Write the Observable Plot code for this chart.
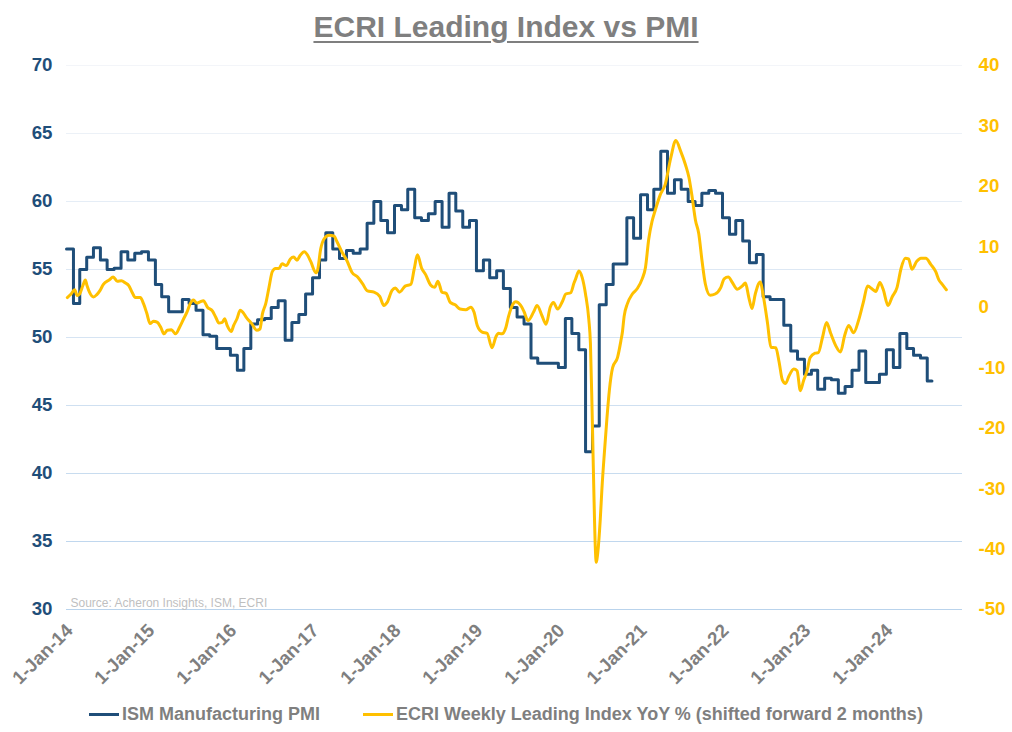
<!DOCTYPE html>
<html>
<head>
<meta charset="utf-8">
<script src="https://cdn.jsdelivr.net/npm/d3@7"></script>
<script src="https://cdn.jsdelivr.net/npm/@observablehq/plot@0.6"></script>
<style>
  html, body { margin: 0; padding: 0; background: #fff; }
  body { font-family: "Liberation Sans", Arial, sans-serif; }
  #wrap { position: relative; width: 1012px; height: 732px; overflow: hidden; background: #fff; }
  #title { position: absolute; left: 0; top: 10px; width: 1012px; text-align: center; font-weight: bold; font-size: 30px; color: #7f7f7f; text-decoration: underline; text-decoration-thickness: 2px; text-underline-offset: 4px; }
  #chart { position: absolute; left: 0; top: 50px; }
  #legend { position: absolute; left: 0; top: 704px; width: 1012px; display: flex; justify-content: center; align-items: center; font-weight: bold; font-size: 18px; color: #7f7f7f; }
  .item { display: flex; align-items: center; }
  .item + .item { margin-left: 43px; }
  .sw { width: 30px; height: 3px; margin-right: 3px; }
</style>
</head>
<body>
<div id="wrap">
  <div id="title">ECRI Leading Index vs PMI</div>
  <div id="chart"></div>
  <div id="legend"></div>
</div>
<script>
// ---------------- DATA ----------------
const seriesNames = ["ISM Manufacturing PMI", "ECRI Weekly Leading Index YoY % (shifted forward 2 months)"];
const seriesColors = ["#1F4E79", "#FFC000"];

// ISM Manufacturing PMI, monthly steps starting Jan 2014
const pmiStart = "2014-01-01";
const pmiEnd = "2024-07-22";
const pmiValues = [
  56.5, 52.5, 55.0, 55.9, 56.6, 55.7, 55.0, 55.1, 56.3, 55.7, 56.2, 56.3,
  55.7, 53.9, 53.0, 51.9, 51.9, 52.8, 52.5, 52.0, 50.2, 50.1, 49.2, 49.2,
  48.7, 47.6, 49.2, 51.0, 51.3, 51.4, 52.2, 52.7, 49.8, 51.1, 51.7, 53.2,
  54.4, 55.7, 57.7, 56.5, 55.8, 56.4, 56.2, 56.5, 58.4, 60.0, 58.6, 57.7,
  59.7, 59.4, 60.9, 58.8, 58.6, 59.1, 60.0, 58.1, 60.6, 59.3, 58.1, 58.6,
  54.9, 55.7, 54.4, 54.9, 53.6, 52.2, 51.5, 51.0, 48.5, 48.1, 48.1, 48.1,
  47.8, 51.4, 50.3, 49.1, 41.6, 43.5, 52.4, 53.9, 55.4, 55.4, 58.8, 57.3,
  60.5, 59.4, 60.9, 63.7, 60.6, 61.6, 60.9, 60.0, 59.7, 60.6, 60.8, 60.6,
  58.8, 57.6, 58.6, 57.1, 55.5, 56.1, 53.0, 52.8, 52.8, 50.9, 49.0, 48.4,
  47.3, 47.6, 46.2, 47.0, 46.9, 45.9, 46.4, 47.6, 49.0, 46.7, 46.7, 47.3,
  49.1, 47.8, 50.3, 49.2, 48.7, 48.5, 46.8
];

// ECRI weekly leading index YoY %, sampled (decimal year, value)
const ecriTime = [
  2014.01,2014.05,2014.10,2014.13,2014.16,2014.20,2014.23,2014.25,2014.28,2014.33,2014.37,2014.41,2014.45,2014.52,2014.57,2014.62,2014.67,2014.72,2014.76,2014.80,2014.84,2014.90,2014.94,2014.98,
  2015.02,2015.06,2015.11,2015.15,2015.19,2015.23,2015.28,2015.33,2015.38,2015.43,2015.47,2015.51,2015.55,2015.59,2015.63,2015.67,2015.72,2015.78,2015.82,2015.86,2015.90,2015.93,2015.96,
  2016.01,2016.04,2016.08,2016.12,2016.15,2016.20,2016.26,2016.32,2016.36,2016.39,2016.43,2016.47,2016.51,2016.55,2016.59,2016.63,2016.68,2016.73,2016.77,2016.81,2016.85,2016.90,2016.94,2016.98,
  2017.04,2017.06,2017.10,2017.14,2017.20,2017.26,2017.30,2017.36,2017.42,2017.48,2017.55,2017.61,2017.67,2017.75,2017.82,2017.87,2017.91,2017.97,
  2018.01,2018.06,2018.13,2018.20,2018.24,2018.28,2018.33,2018.38,2018.44,2018.49,2018.53,2018.58,2018.63,2018.68,2018.74,2018.80,2018.87,2018.93,2018.97,
  2019.01,2019.07,2019.13,2019.19,2019.24,2019.27,2019.31,2019.36,2019.39,2019.45,2019.48,2019.54,2019.58,2019.63,2019.70,2019.74,2019.80,2019.85,2019.90,2019.94,2019.99,
  2020.05,2020.09,2020.15,2020.19,2020.21,2020.25,2020.29,2020.33,2020.37,2020.39,2020.41,2020.43,2020.45,2020.46,2020.48,2020.51,2020.53,2020.56,2020.59,2020.62,2020.66,2020.72,2020.76,2020.78,2020.80,2020.84,2020.90,2020.96,
  2021.02,2021.06,2021.10,2021.14,2021.18,2021.24,2021.30,2021.37,2021.43,2021.49,2021.55,2021.59,2021.63,2021.67,2021.71,2021.75,2021.79,2021.85,2021.91,2021.98,
  2022.02,2022.07,2022.12,2022.18,2022.24,2022.28,2022.32,2022.36,2022.40,2022.46,2022.50,2022.55,2022.59,2022.65,2022.69,2022.73,2022.77,2022.81,2022.87,2022.91,2022.95,2022.99,
  2023.03,2023.07,2023.13,2023.17,2023.22,2023.27,2023.32,2023.38,2023.44,2023.49,2023.54,2023.60,2023.66,2023.72,2023.77,2023.83,2023.87,2023.92,2023.96,
  2024.02,2024.07,2024.13,2024.18,2024.23,2024.27,2024.31,2024.37,2024.42,2024.48,2024.54,2024.60,2024.64,2024.68,2024.73
];
const ecriValue = [
  1.6,2.1,2.9,1.95,2.2,3.6,4.5,3.6,2.5,1.7,2.1,2.8,3.8,4.5,5.0,4.3,4.4,4.0,3.6,2.5,1.6,1.6,0.6,-1.0,
  -2.7,-2.3,-2.5,-3.3,-4.4,-3.8,-3.7,-4.4,-3.3,-1.9,-0.8,0.6,1.2,0.7,0.9,1.1,0.0,-0.6,-1.6,-2.6,-2.5,-1.9,-3.0,
  -4.0,-3.0,-1.9,-0.5,-0.8,-1.8,-2.7,-3.8,-3.6,-1.1,0.6,3.3,5.9,6.4,6.4,7.2,6.9,8.0,8.3,7.8,8.6,9.2,8.6,7.5,
  5.7,6.1,9.7,11.3,11.9,11.8,10.8,9.1,7.7,5.8,5.0,3.9,2.7,2.5,1.8,0.3,0.8,2.8,
  3.2,2.5,3.5,3.8,6.3,8.7,6.5,5.4,3.7,3.3,4.3,2.5,2.3,0.8,0.4,-0.3,-0.4,0.0,-0.8,
  -3.0,-4.1,-4.3,-6.7,-4.8,-4.3,-4.4,-3.3,-1.6,0.6,0.9,0.3,-0.7,-2.2,-0.7,0.3,-1.4,-2.8,0.0,0.8,-0.3,
  1.0,2.2,2.4,4.0,4.7,6.0,4.9,2.2,-2.0,-6.0,-17.0,-29.5,-40.0,-42.2,-40.5,-35.0,-30.0,-24.0,-18.5,-13.8,-10.0,-8.3,-5.6,-4.0,-1.5,0.6,2.2,3.1,
  4.7,6.6,11.3,14.2,16.1,18.6,20.3,24.8,27.6,25.8,23.5,21.5,18.2,14.4,12.2,7.7,3.9,2.0,2.2,3.3,
  4.7,5.0,4.1,3.0,3.5,4.0,1.7,-0.2,2.2,4.2,1.7,-2.7,-6.6,-6.7,-9.0,-12.0,-12.6,-11.4,-10.2,-10.5,-13.8,-12.1,
  -10.6,-8.3,-7.6,-7.5,-5.0,-2.5,-4.3,-6.3,-7.4,-4.7,-3.0,-4.2,-2.2,0.9,3.5,3.0,2.6,4.1,3.0,
  0.3,1.7,3.3,6.5,8.1,8.0,6.3,7.6,8.1,8.1,7.1,5.9,4.5,3.8,2.9
];

// Axes
const leftTicks = [30, 35, 40, 45, 50, 55, 60, 65, 70];
const rightTicks = [-50, -40, -30, -20, -10, 0, 10, 20, 30, 40];
const xDomain = ["2014-01-01", "2024-12-05"];
const xTickYears = [2014, 2015, 2016, 2017, 2018, 2019, 2020, 2021, 2022, 2023, 2024];
const sourceText = "Source: Acheron Insights, ISM, ECRI";
const titleText = "ECRI Leading Index vs PMI";

// ---------------- BUILD ----------------
const leftDom = [30, 70], rightDom = [-50, 40];
const toLeft = e => leftDom[0] + (e - rightDom[0]) * (leftDom[1] - leftDom[0]) / (rightDom[1] - rightDom[0]);
const toRight = v => rightDom[0] + (v - leftDom[0]) * (rightDom[1] - rightDom[0]) / (leftDom[1] - leftDom[0]);

function decYear(t) {
  const y = Math.floor(t);
  const s = Date.UTC(y, 0, 1), e = Date.UTC(y + 1, 0, 1);
  return new Date(s + (t - y) * (e - s));
}

const start = new Date(pmiStart);
const pmiData = pmiValues.map((v, i) => ({date: new Date(Date.UTC(start.getUTCFullYear(), start.getUTCMonth() + i, 1)), v}));
pmiData.push({date: new Date(pmiEnd), v: pmiValues[pmiValues.length - 1]});

const ecriData = ecriTime.map((t, i) => ({date: decYear(t), v: ecriValue[i]}));

const gridColor = d3.interpolateRgb("#f3f5f9", "#b9d3ec");
const gridMarks = leftTicks.map(t => Plot.ruleY([t], {stroke: gridColor((70 - t) / 40), strokeWidth: 1}));

const fam = "'Liberation Sans', Arial, sans-serif";
const fmtX = d => "1-" + d3.utcFormat("%b-%y")(d);

const chart = Plot.plot({
  width: 1012,
  height: 640,
  marginTop: 15,
  marginBottom: 81,
  marginLeft: 66,
  marginRight: 50,
  style: {fontFamily: fam, background: "transparent", overflow: "visible"},
  x: {type: "utc", domain: xDomain.map(d => new Date(d))},
  y: {domain: leftDom},
  marks: [
    ...gridMarks,
    Plot.axisY({ticks: leftTicks, tickSize: 0, tickPadding: 14, fontSize: 18.7, fontWeight: "bold", color: "#1F4E79", label: null, anchor: "left"}),
    Plot.axisY({ticks: rightTicks.map(toLeft), tickFormat: v => String(Math.round(toRight(v))), tickSize: 0, tickPadding: 16, fontSize: 18.7, fontWeight: "bold", color: "#FFC000", label: null, anchor: "right"}),
    Plot.axisX({ticks: xTickYears.map(y => new Date(Date.UTC(y, 0, 1))), tickFormat: fmtX, tickRotate: -45, tickSize: 0, tickPadding: 18, dx: 3, fontSize: 18.7, fontWeight: "bold", color: "#7f7f7f", label: null}),
    Plot.text([sourceText], {frameAnchor: "bottom-left", textAnchor: "start", lineAnchor: "bottom", dx: 4, dy: -3, fill: "#bfbfbf", fontSize: 12}),
    Plot.line(pmiData, {x: "date", y: "v", curve: "step-after", stroke: seriesColors[0], strokeWidth: 3, strokeLinejoin: "round"}),
    Plot.line(ecriData, {x: "date", y: d => toLeft(d.v), curve: "monotone-x", stroke: seriesColors[1], strokeWidth: 3, strokeLinejoin: "round", strokeLinecap: "round"})
  ]
});
document.getElementById("chart").appendChild(chart);
document.getElementById("title").textContent = titleText;

const legend = document.getElementById("legend");
seriesNames.forEach((name, i) => {
  const item = document.createElement("div");
  item.className = "item";
  const sw = document.createElement("div");
  sw.className = "sw";
  sw.style.background = seriesColors[i];
  const lab = document.createElement("span");
  lab.textContent = name;
  item.appendChild(sw);
  item.appendChild(lab);
  legend.appendChild(item);
});
</script>
</body>
</html>
